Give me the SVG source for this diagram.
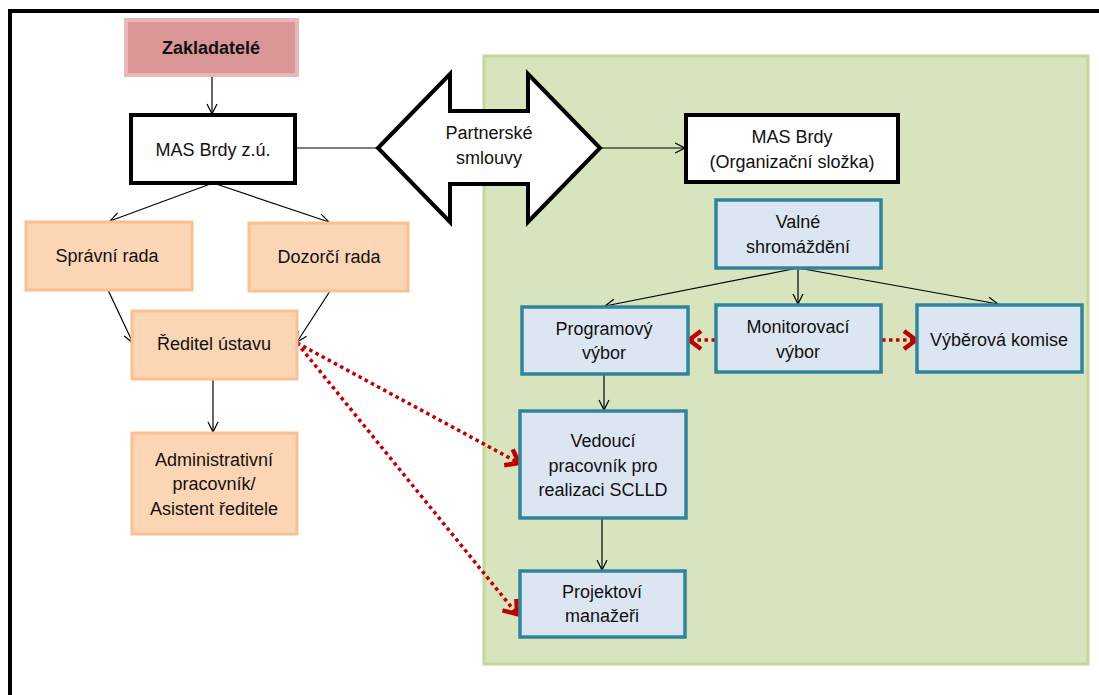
<svg xmlns="http://www.w3.org/2000/svg" width="1099" height="695" viewBox="0 0 1099 695">
<defs>
<style>
text{font-family:"Liberation Sans",Arial,sans-serif;font-size:18px;fill:#111;text-anchor:middle}
.bold{font-weight:bold;font-size:18px}
.org{fill:#fcd5b5;stroke:#fac090;stroke-width:3}
.blue{fill:#dce6f2;stroke:#31849b;stroke-width:3.5}
.blk{fill:#fff;stroke:#000;stroke-width:4}
.conn{stroke:#000;stroke-width:1.2;fill:none;marker-end:url(#ah)}
.red{stroke:#c00000;stroke-width:3.5;fill:none;stroke-dasharray:3.5 3.5;marker-end:url(#rh)}
</style>
<marker id="ah" markerUnits="userSpaceOnUse" viewBox="0 0 12 12" refX="11" refY="6" markerWidth="12" markerHeight="12" orient="auto">
<path d="M1,1 L11,6 L1,11" fill="none" stroke="#000" stroke-width="1.2"/>
</marker>
<marker id="rh" markerUnits="userSpaceOnUse" viewBox="0 0 18 22" refX="15" refY="11" markerWidth="18" markerHeight="22" orient="auto">
<path d="M3,2 L15,11 L3,20" fill="none" stroke="#c00000" stroke-width="4.5" stroke-linejoin="miter"/>
</marker>
</defs>
<rect width="1099" height="695" fill="#fff"/>
<path d="M10,695 V11 H1099" fill="none" stroke="#000" stroke-width="4"/>
<rect id="panel" x="484" y="56" width="604" height="608" fill="#d7e4bd" stroke="#c3d69b" stroke-width="3"/>

<g id="connectors">
<line class="conn" x1="212" y1="76" x2="212" y2="114"/>
<line class="conn" x1="213" y1="183" x2="110" y2="221"/>
<line class="conn" x1="213" y1="183" x2="329" y2="222"/>
<line class="conn" x1="108" y1="290" x2="133" y2="343"/>
<line class="conn" x1="330" y1="291" x2="297" y2="342"/>
<line class="conn" x1="213" y1="379" x2="213" y2="432"/>
<line x1="295" y1="148" x2="378" y2="148" stroke="#000" stroke-width="1.2"/>
<line class="conn" x1="600" y1="148" x2="685" y2="148"/>
<line class="conn" x1="798" y1="268" x2="605" y2="306"/>
<line class="conn" x1="798" y1="268" x2="798" y2="304"/>
<line class="conn" x1="798" y1="268" x2="998" y2="304"/>
<line class="conn" x1="604" y1="374" x2="604" y2="410"/>
<line class="conn" x1="602" y1="519" x2="602" y2="570"/>
<line class="red" x1="715" y1="340" x2="689" y2="340"/>
<line class="red" x1="882" y1="340" x2="916" y2="340"/>
<line class="red" x1="297" y1="343" x2="519" y2="463"/>
<line class="red" x1="297" y1="343" x2="517" y2="614"/>
</g>

<g id="zakladatele">
<rect x="126" y="20" width="171" height="55" fill="#d99694" stroke="#e6b9b8" stroke-width="4"/>
<text class="bold" x="211" y="54">Zakladatelé</text>
</g>
<g id="mas-zu">
<rect class="blk" x="131" y="115" width="164" height="68"/>
<text x="213" y="156">MAS Brdy z.ú.</text>
</g>
<g id="partnerske">
<polygon points="378,148 450,74 450,111 528,111 528,74 600,148 528,222 528,184 450,184 450,222" fill="#fff" stroke="#000" stroke-width="4" stroke-linejoin="miter"/>
<text x="489" y="139">Partnerské</text>
<text x="489" y="164">smlouvy</text>
</g>
<g id="mas-org">
<rect class="blk" x="686" y="115" width="212" height="67"/>
<text x="792" y="143">MAS Brdy</text>
<text x="792" y="168">(Organizační složka)</text>
</g>
<g id="valne">
<rect class="blue" x="716" y="200" width="165" height="68"/>
<text x="798" y="228">Valné</text>
<text x="798" y="253">shromáždění</text>
</g>
<g id="spravni">
<rect class="org" x="26" y="222" width="166" height="68"/>
<text x="107" y="262">Správní rada</text>
</g>
<g id="dozorci">
<rect class="org" x="249" y="223" width="159" height="68"/>
<text x="329" y="263">Dozorčí rada</text>
</g>
<g id="reditel">
<rect class="org" x="132" y="311" width="165" height="68"/>
<text x="214" y="350">Ředitel ústavu</text>
</g>
<g id="admin">
<rect class="org" x="132" y="433" width="165" height="101"/>
<text x="214" y="466">Administrativní</text>
<text x="214" y="490">pracovník/</text>
<text x="214" y="515">Asistent ředitele</text>
</g>
<g id="programovy">
<rect class="blue" x="522" y="307" width="166" height="67"/>
<text x="604" y="335">Programový</text>
<text x="604" y="359">výbor</text>
</g>
<g id="monitorovaci">
<rect class="blue" x="716" y="305" width="165" height="67"/>
<text x="798" y="333">Monitorovací</text>
<text x="798" y="358">výbor</text>
</g>
<g id="vyberova">
<rect class="blue" x="917" y="305" width="165" height="67"/>
<text x="999" y="346">Výběrová komise</text>
</g>
<g id="vedouci">
<rect class="blue" x="520" y="411" width="166" height="107"/>
<text x="603" y="447">Vedoucí</text>
<text x="603" y="472">pracovník pro</text>
<text x="603" y="496">realizaci SCLLD</text>
</g>
<g id="projektovi">
<rect class="blue" x="520" y="571" width="165" height="66"/>
<text x="602" y="598">Projektoví</text>
<text x="602" y="622">manažeři</text>
</g>
</svg>
